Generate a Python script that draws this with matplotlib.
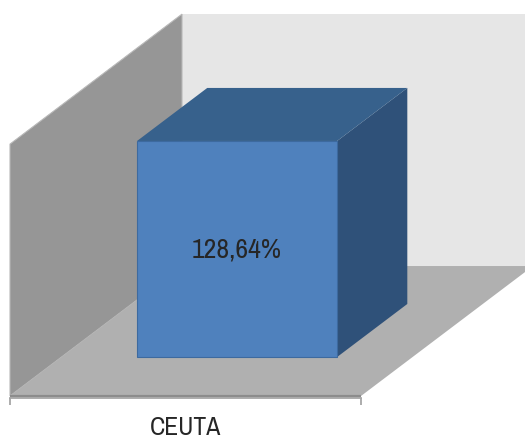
import matplotlib
matplotlib.use("Agg")
import matplotlib.pyplot as plt
from matplotlib import font_manager
from matplotlib.font_manager import FontProperties
from matplotlib.patches import Polygon

# Data
categories = ["CEUTA"]
values = [128.64]
labels = ["128,64%"]

# Value axis range and layout of the pseudo-3D box
VMAX = 150
BAR_WIDTH = 0.57
BAR_Z0, BAR_Z1 = 0.30, 0.708      # bar depth span (fraction of floor depth)
DEPTH_X = 172 / 351               # x shift (data units) for full depth
DEPTH_Y = 77.4                    # value shift (data units) for full depth

plt.rcParams['font.family'] = ['Liberation Sans', 'DejaVu Sans']

# prefer a narrow sans face when one is installed
narrow = None
for f in font_manager.fontManager.ttflist:
    if 'Narrow' in f.name and f.style == 'normal' and f.weight in (400, 'normal', 'regular'):
        narrow = f.fname
        break
if narrow is None:
    for f in font_manager.fontManager.ttflist:
        if f.name == 'DejaVu Sans' and 'ondensed' in str(f.stretch) and f.style == 'normal' \
                and f.weight in (400, 'normal', 'book', 'regular'):
            narrow = f.fname
            break
if narrow is None:
    for f in font_manager.fontManager.ttflist:
        if 'Condensed' in f.fname and 'Bold' not in f.fname and 'Oblique' not in f.fname \
                and 'Italic' not in f.fname:
            narrow = f.fname
            break


def fprops(size):
    if narrow:
        return FontProperties(fname=narrow, size=size)
    return FontProperties(family=['Liberation Sans', 'DejaVu Sans'], size=size * 0.82)


fig = plt.figure(figsize=(5.25, 4.39), dpi=100)
fig.patch.set_facecolor('white')
ax = fig.add_axes([10 / 525, 42 / 439, 351 / 525, 251.9 / 439])
ax.set_xlim(-0.5, len(categories) - 0.5)
ax.set_ylim(0, VMAX)
ax.patch.set_visible(False)


def proj(x, v, z):
    return (x + DEPTH_X * z, v + DEPTH_Y * z)


def face(pts, color, ec='none', lw=0, z=1):
    p = Polygon([proj(*q) for q in pts], closed=True, facecolor=color,
                edgecolor=ec, linewidth=lw, clip_on=False, zorder=z)
    ax.add_patch(p)


x0, x1 = -0.5, len(categories) - 0.5
# back wall
face([(x0, 0, 1), (x1 + 1, 0, 1), (x1 + 1, VMAX, 1), (x0, VMAX, 1)], '#e6e6e6', z=1)
# side wall
face([(x0, 0, 0), (x0, 0, 1), (x0, VMAX, 1), (x0, VMAX, 0)], '#969696',
     ec='#b8b8b8', lw=0.8, z=2)
# floor
face([(x0, 0, 0), (x1, 0, 0), (x1, 0, 1), (x1 + 1, 0, 1), (x0, 0, 1)], '#b0b0b0', z=3)
ax.plot([x0, x1], [0, 0], color='#8c8c8c', lw=1.6, clip_on=False, zorder=4,
        solid_capstyle='butt')

# bars
for i, (v, lab) in enumerate(zip(values, labels)):
    a, b = i - BAR_WIDTH / 2, i + BAR_WIDTH / 2
    # side face
    face([(b, 0, BAR_Z0), (b, 0, BAR_Z1), (b, v, BAR_Z1), (b, v, BAR_Z0)],
         '#2f5179', z=5)
    # top face
    face([(a, v, BAR_Z0), (b, v, BAR_Z0), (b, v, BAR_Z1), (a, v, BAR_Z1)],
         '#37618c', z=5)
    # front face
    face([(a, 0, BAR_Z0), (b, 0, BAR_Z0), (b, v, BAR_Z0), (a, v, BAR_Z0)],
         '#4f81bd', ec='#3d6a9f', lw=0.8, z=6)
    cx, cy = proj(i, v / 2, BAR_Z0)
    ax.text(cx, cy, lab, ha='center', va='center', fontproperties=fprops(20),
            color='#262626', zorder=7)

# category axis
for s in ['left', 'right', 'top']:
    ax.spines[s].set_visible(False)
ax.spines['bottom'].set_position(('outward', 1.5))
ax.spines['bottom'].set_color('#a6a6a6')
ax.spines['bottom'].set_linewidth(1.3)
ax.set_yticks([])
ax.set_xticks(range(len(categories)))
ax.set_xticklabels(categories, color='#262626')
for t in ax.get_xticklabels():
    t.set_fontproperties(fprops(18.5))
ax.tick_params(axis='x', which='major', length=0, pad=12)
ax.set_xticks([x0, x1], minor=True)
ax.tick_params(axis='x', which='minor', length=5, width=1.3, color='#a6a6a6',
               direction='out')

fig.savefig('out.png', dpi=100)
